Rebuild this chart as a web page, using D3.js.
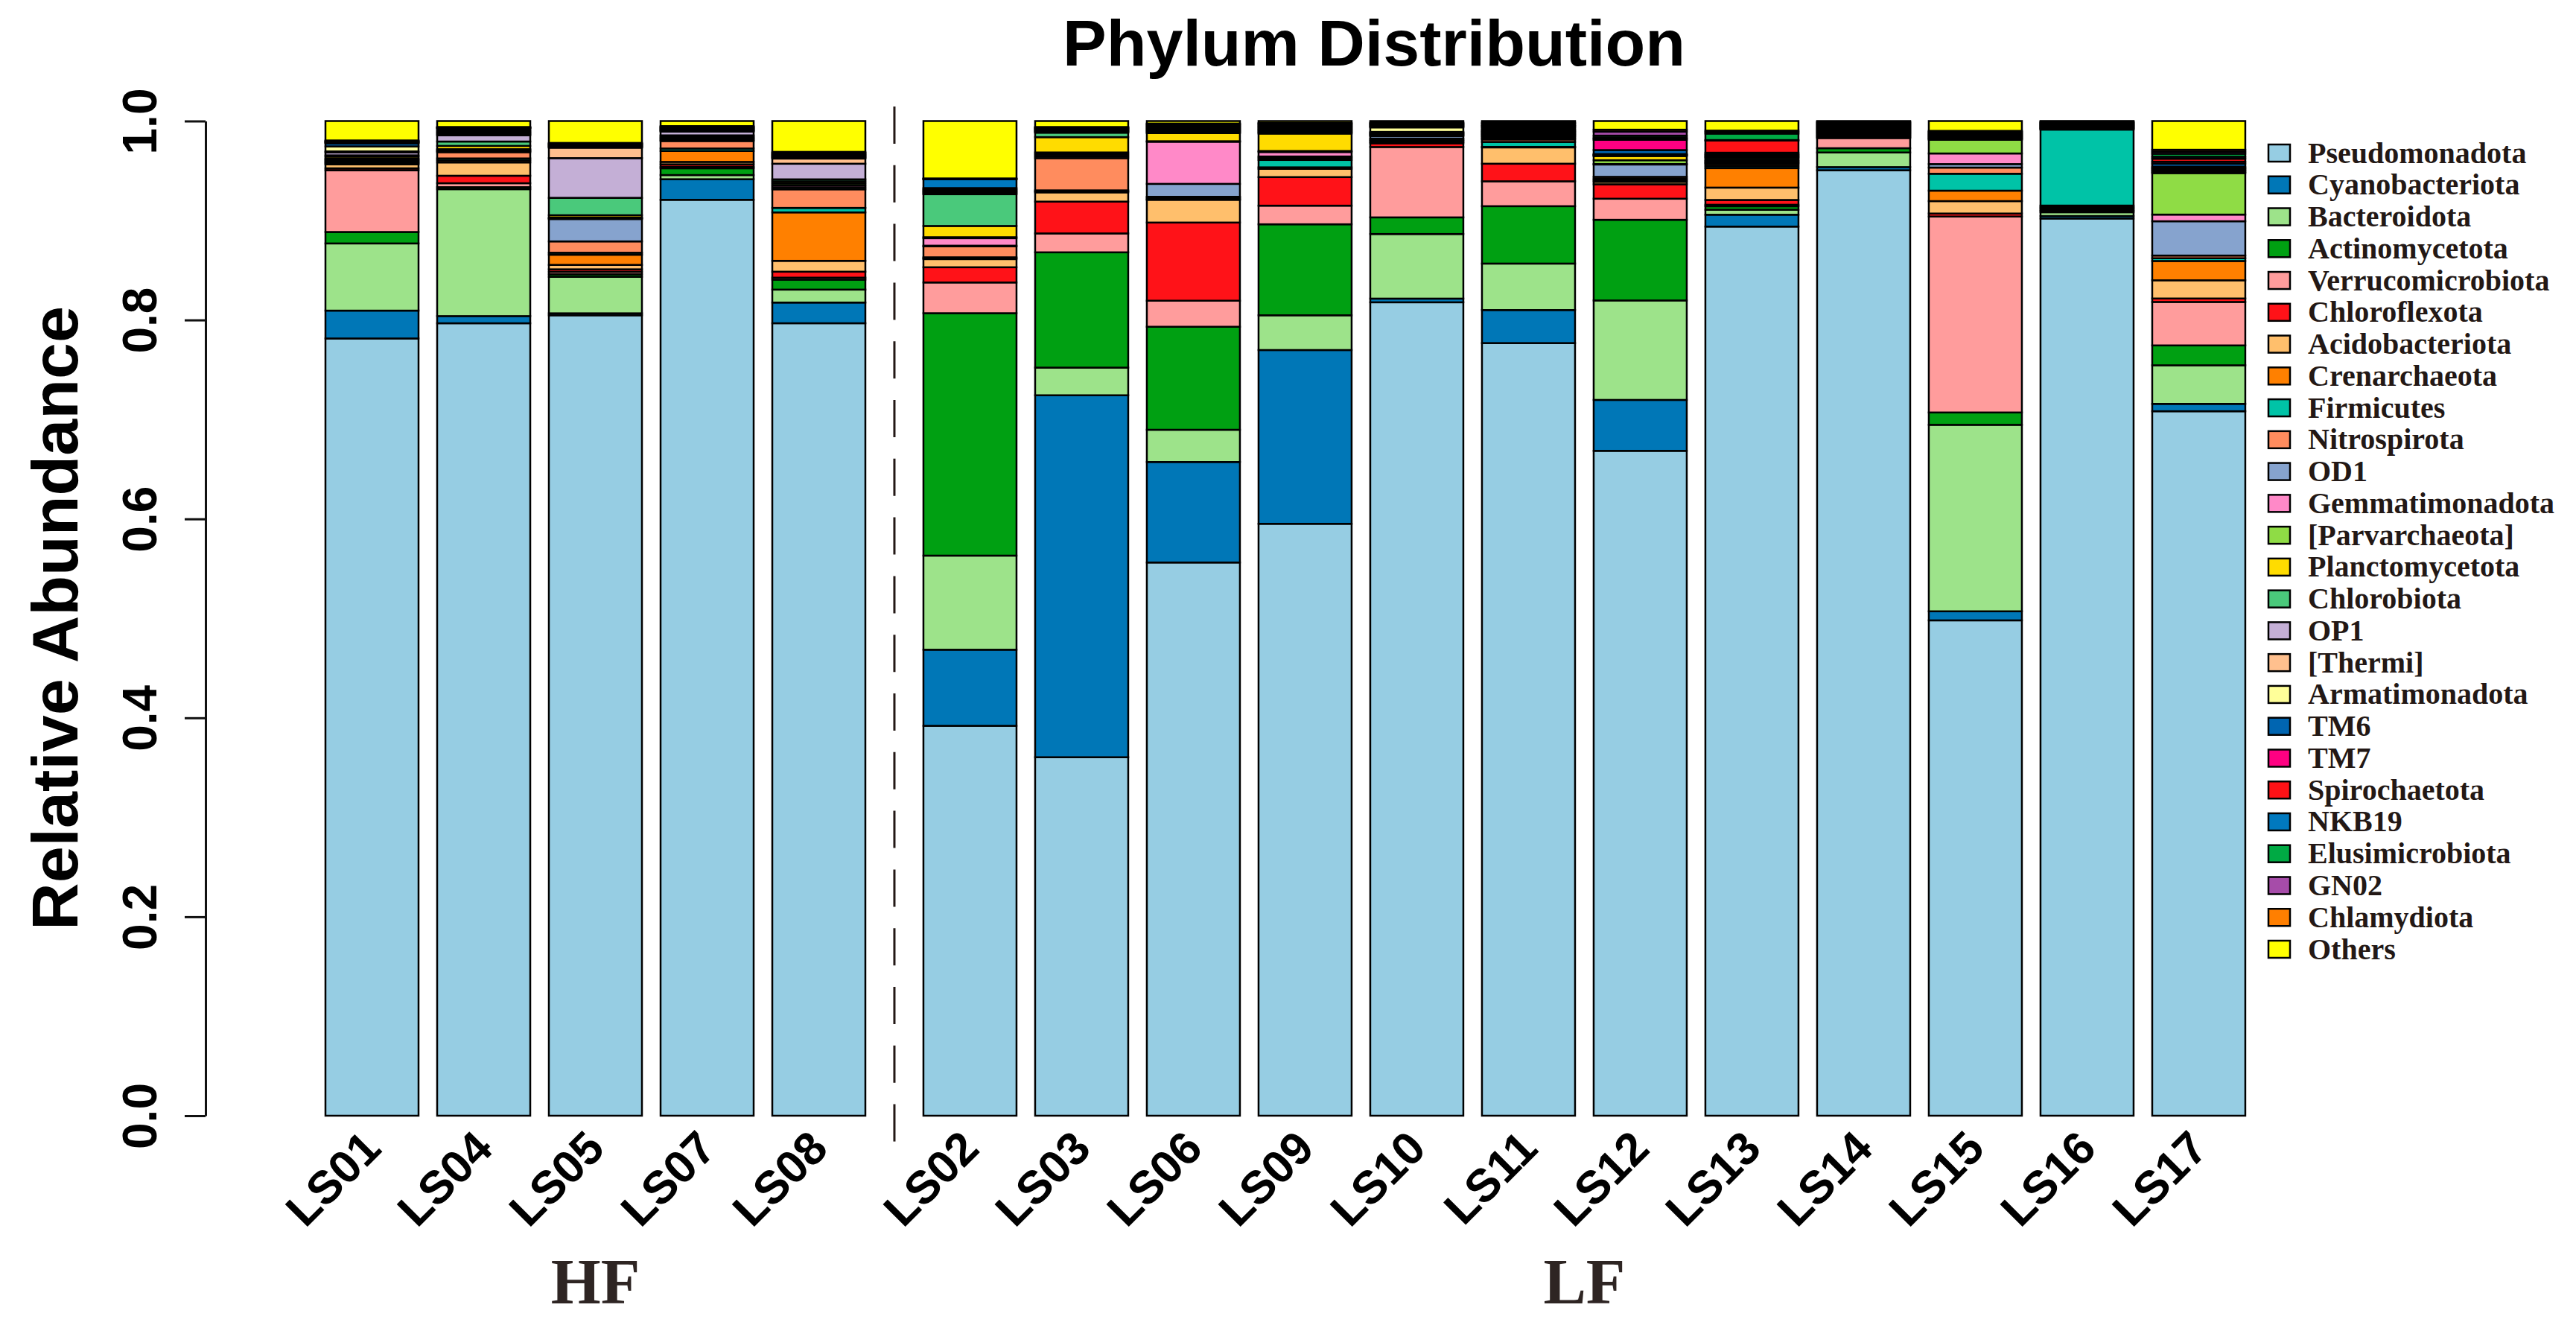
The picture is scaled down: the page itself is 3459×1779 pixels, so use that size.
<!DOCTYPE html>
<html>
<head>
<meta charset="utf-8">
<script src="https://cdn.jsdelivr.net/npm/d3@7"></script>
<style>
  body { margin: 0; background: #fff; }
  svg { display: block; }
</style>
</head>
<body>
<div id="chart"></div>
<script>
// samples in plotted order, with their group
const samples = ['LS01','LS04','LS05','LS07','LS08','LS02','LS03','LS06','LS09','LS10','LS11','LS12','LS13','LS14','LS15','LS16','LS17'];
const groups  = ['HF','HF','HF','HF','HF','LF','LF','LF','LF','LF','LF','LF','LF','LF','LF','LF','LF'];
const groupNames = ['HF', 'LF'];

const phyla = ['Pseudomonadota','Cyanobacteriota','Bacteroidota','Actinomycetota','Verrucomicrobiota','Chloroflexota',
  'Acidobacteriota','Crenarchaeota','Firmicutes','Nitrospirota','OD1','Gemmatimonadota','[Parvarchaeota]',
  'Planctomycetota','Chlorobiota','OP1','[Thermi]','Armatimonadota','TM6','TM7','Spirochaetota','NKB19',
  'Elusimicrobiota','GN02','Chlamydiota','Others'];
const colors = ['#96CDE3','#0077B7','#9DE38A','#00A012','#FF9C9C','#FF1218','#FFBF6C','#FF8000','#00C3A7','#FF8C5E',
  '#86A3CE','#FF89C8','#8FDC45','#FFDC00','#4AC97B','#C4AFD6','#FFC08E','#FFFF99','#0065B1','#FF0082','#FF1216',
  '#0079BF','#00AA44','#A64CA9','#FF7F00','#FFFF00'];

// relative abundance per phylum, same order as samples
const pseudomonadota    = [.781,.7967,.8047,.9208,.7964,.392,.3604,.5564,.5945,.8172,.7767,.6685,.8921,.950,.498,.902,.7086];
const cyanobacteriota   = [.028,.0072,.002,.0207,.0208,.0765,.3639,.1011,.1745,.0037,.0332,.0512,.0119,.0032,.0091,.0025,.0074];
const bacteroidota      = [.0675,.1276,.0367,.0042,.013,.0946,.0278,.0324,.0349,.0649,.0467,.100,.005,.0147,.1875,.0038,.0388];
const actinomycetota    = [.0115,.002,.0025,.0068,.010,.2437,.1159,.1036,.0914,.0167,.0577,.0811,.0035,.0043,.0124,.0013,.020];
const verrucomicrobiota = [.062,.004,.0025,.0015,.002,.0309,.019,.0262,.0187,.0707,.025,.0212,.0015,.0102,.197,.0013,.0437];
const chloroflexota     = [.002,.0075,.0025,.0025,.006,.0153,.032,.0786,.0287,.0037,.0177,.0145,.0048,.0009,.003,.0013,.0035];
const acidobacteriota   = [.004,.0134,.0045,.0024,.0109,.0082,.0093,.0229,.0083,.0012,.0164,.0025,.0124,.0009,.0125,.0014,.0183];
const crenarchaeota     = [.001,.002,.0102,.011,.0487,.0009,.001,.0005,.0015,.0012,.0005,.0015,.0195,.0009,.0105,.0014,.0194];
const firmicutes        = [.001,.002,.002,.0025,.0045,.0009,.001,.0015,.0074,.0012,.005,.0015,.002,.0009,.017,.0764,.0028];
const nitrospirota      = [.001,.0063,.0114,.0075,.0187,.011,.0324,.001,.0018,.0012,.0025,.002,.002,.0009,.0062,.0005,.0027];
const od1               = [.001,.001,.0225,.0011,.002,.0007,.0019,.013,.0017,.0025,.001,.0124,.001,.0008,.0035,.0005,.0345];
const gemmatimonadota   = [.001,.001,.0007,.0011,.002,.0075,.0019,.0424,.0045,.0007,.0015,.0005,.001,.0008,.0107,.0005,.0067];
const parvarchaeota     = [.001,.001,.0007,.0011,.002,.001,.0019,.0005,.001,.0007,.001,.0038,.001,.0008,.0138,.0005,.0417];
const planctomycetota   = [.002,.0033,.0024,.0012,.002,.0113,.0154,.0082,.0175,.0007,.001,.0042,.001,.0008,.0007,.0005,.0013];
const chlorobiota       = [.001,.0044,.0175,.0012,.002,.0319,.0045,.0009,.001,.0007,.001,.0005,.002,.0008,.0007,.0005,.0013];
const op1               = [.003,.0063,.0399,.0038,.0157,.001,.0006,.0009,.001,.0007,.001,.0005,.001,.0008,.0007,.0005,.0013];
const thermi            = [.001,.0012,.0105,.0006,.0052,.001,.0006,.0009,.001,.0007,.001,.0005,.001,.0008,.0007,.0005,.0013];
const armatimonadota    = [.005,.0012,.0006,.0006,.0008,.001,.0006,.0009,.001,.0045,.001,.0005,.001,.0008,.0008,.0005,.0013];
const tm6               = [.003,.0012,.0006,.0006,.0008,.001,.0006,.0009,.001,.0007,.001,.004,.001,.0008,.0007,.0005,.003];
const tm7               = [.0005,.0012,.0006,.0006,.0008,.001,.0006,.0009,.001,.0007,.0015,.0103,.0015,.0008,.0007,.0005,.002];
const spirochaetota     = [.0005,.0019,.0006,.0006,.0008,.0012,.0006,.0009,.001,.0007,.0015,.0011,.0122,.0008,.0008,.0005,.003];
const nkb19             = [.0005,.0004,.0006,.0006,.0008,.0088,.0006,.0009,.001,.0007,.001,.0011,.0005,.0008,.0007,.0005,.002];
const elusimicrobiota   = [.0005,.0004,.0006,.0006,.0008,.0003,.0005,.0009,.001,.0007,.001,.002,.0065,.0008,.0008,.0005,.003];
const gn02              = [.0005,.0004,.0006,.0006,.0009,.0003,.0005,.0009,.001,.0007,.0015,.004,.0015,.0008,.0008,.0006,.002];
const chlamydiota       = [.0005,.0004,.0006,.0007,.001,.0003,.0005,.0006,.0006,.0007,.001,.002,.0015,.0008,.0008,.0006,.002];
const others            = [.0195,.006,.022,.0051,.031,.0577,.006,.0025,.002,.0015,.0015,.0087,.0096,.0006,.0099,.0004,.0289];

const yTicks = [0, 0.2, 0.4, 0.6, 0.8, 1.0];

const series = [pseudomonadota, cyanobacteriota, bacteroidota, actinomycetota, verrucomicrobiota, chloroflexota,
  acidobacteriota, crenarchaeota, firmicutes, nitrospirota, od1, gemmatimonadota, parvarchaeota, planctomycetota,
  chlorobiota, op1, thermi, armatimonadota, tm6, tm7, spirochaetota, nkb19, elusimicrobiota, gn02, chlamydiota, others];

const width = 3459, height = 1779;
const sans = "'Liberation Sans', Arial, sans-serif";
const serif = "'Liberation Serif', 'Times New Roman', serif";
const ink = '#231815';

const rows = samples.map((s, i) => {
  const r = { sample: s };
  phyla.forEach((p, k) => { r[p] = series[k][i]; });
  return r;
});
const stacked = d3.stack().keys(phyla).offset(d3.stackOffsetExpand)(rows);

// extra space between the HF and LF blocks, in bar slots
const groupGap = 0.353;
const slot = i => i + (groups[i] === 'LF' ? groupGap : 0);
const x = d3.scaleLinear().domain([0, 1]).range([437, 587]);
const barW = (x(1) - x(0)) / 1.2;
const y = d3.scaleLinear().domain([0, 1]).range([1498, 162.5]);

const svg = d3.select('#chart').append('svg')
  .attr('width', width)
  .attr('height', height)
  .style('background', '#fff');

// title
svg.append('text')
  .attr('x', 1845).attr('y', 88)
  .attr('text-anchor', 'middle')
  .style('font-family', sans).style('font-weight', 'bold').style('font-size', '88px')
  .text('Phylum Distribution');

// stacked bars
svg.append('g').selectAll('g')
  .data(stacked)
  .join('g')
    .attr('fill', (d, k) => colors[k])
  .selectAll('rect')
  .data(d => d)
  .join('rect')
    .attr('x', (d, i) => x(slot(i)))
    .attr('y', d => y(d[1]))
    .attr('width', barW)
    .attr('height', d => y(d[0]) - y(d[1]))
    .attr('stroke', '#000')
    .attr('stroke-width', 2.5);

// dashed separator between groups
const lastHF = groups.lastIndexOf('HF');
const sepX = (x(slot(lastHF)) + barW + x(slot(lastHF + 1))) / 2;
svg.append('line')
  .attr('x1', sepX).attr('x2', sepX)
  .attr('y1', 143).attr('y2', 1535)
  .attr('stroke', ink).attr('stroke-width', 3)
  .attr('stroke-dasharray', '50 28.8');

// y axis
const yAxis = svg.append('g')
  .attr('transform', 'translate(276,0)')
  .call(d3.axisLeft(y).tickValues(yTicks).tickFormat(d3.format('.1f')).tickSize(28).tickSizeOuter(0));
yAxis.select('.domain').attr('stroke', '#111').attr('stroke-width', 3);
yAxis.selectAll('.tick line').attr('stroke', '#111').attr('stroke-width', 3);
yAxis.selectAll('.tick text')
  .attr('transform', 'rotate(-90)')
  .attr('x', 0).attr('y', -88).attr('dy', null)
  .attr('text-anchor', 'middle')
  .attr('dominant-baseline', 'central')
  .attr('fill', '#000')
  .style('font-family', sans).style('font-weight', 'bold').style('font-size', '64px');

svg.append('text')
  .attr('transform', 'translate(73,830) rotate(-90)')
  .attr('text-anchor', 'middle')
  .attr('dominant-baseline', 'central')
  .style('font-family', sans).style('font-weight', 'bold').style('font-size', '88px')
  .text('Relative Abundance');

// sample labels
svg.append('g').selectAll('text')
  .data(samples)
  .join('text')
    .attr('transform', (d, i) => `translate(${x(slot(i)) + barW / 2},1530) rotate(-45)`)
    .attr('text-anchor', 'end')
    .attr('dominant-baseline', 'central')
    .style('font-family', sans).style('font-weight', 'bold').style('font-size', '62px')
    .text(d => d);

// group labels centred under their bars
svg.append('g').selectAll('text')
  .data(groupNames)
  .join('text')
    .attr('x', g => {
      const idx = d3.range(samples.length).filter(i => groups[i] === g);
      return (x(slot(idx[0])) + x(slot(idx[idx.length - 1])) + barW) / 2;
    })
    .attr('y', 1750)
    .attr('text-anchor', 'middle')
    .attr('fill', '#2E2523')
    .style('font-family', serif).style('font-weight', 'bold').style('font-size', '86px')
    .text(g => g);

// legend
const legend = svg.append('g').attr('transform', 'translate(3046,205.5)');
const item = legend.selectAll('g')
  .data(phyla)
  .join('g')
    .attr('transform', (d, i) => `translate(0,${i * 42.76})`);
item.append('rect')
  .attr('x', 0).attr('y', -11.5)
  .attr('width', 29).attr('height', 23)
  .attr('fill', (d, i) => colors[i])
  .attr('stroke', '#000').attr('stroke-width', 2.5);
item.append('text')
  .attr('x', 53).attr('y', 13)
  .attr('fill', ink)
  .style('font-family', serif).style('font-weight', 'bold').style('font-size', '40px')
  .text(d => d);
</script>
</body>
</html>
